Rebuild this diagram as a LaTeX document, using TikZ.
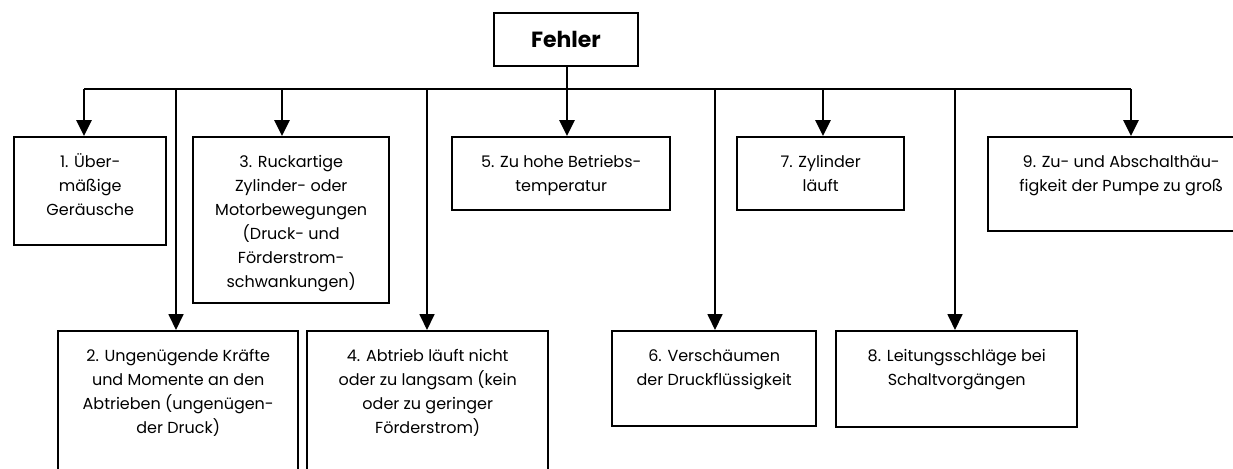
\documentclass[tikz,border=0pt]{standalone}
\usepackage{fontspec}
\setmainfont{Poppins}
\usetikzlibrary{arrows.meta}

\newlength\px
\setlength\px{0.02cm}
% box text: width, height (in px), lines
\newcommand{\faulttext}[3]{\parbox[c][#2\px][t]{#1\px}{\centering
  \fontsize{9.1}{13.6}\selectfont\rule{0pt}{17.5pt}#3}}

\tikzset{
  fault/.style={draw, line width=1.4pt, inner sep=0pt, anchor=north west},
  branch/.style={line width=1.4pt, -{Triangle[length=9pt,width=8.5pt]}},
  longbranch/.style={line width=0.8pt, -{Triangle[length=9pt,width=8.5pt]}}
}

\begin{document}
\begin{tikzpicture}[x=0.02cm, y=-0.02cm]
    \useasboundingbox (0,0) rectangle (1233,469);
    \clip (0,0) rectangle (1233,469);

    \node[draw, line width=1.4pt, inner sep=0pt, minimum width=144\px, minimum height=53\px,
      font=\bfseries\fontsize{12.5}{14}\selectfont] (fehler) at (566,39.5) {Fehler};

    \node[fault] (f1) at (13,136) {\faulttext{152}{108}{1. Über-\\mäßige\\Geräusche}};
    \node[fault] (f2) at (57,330) {\faulttext{240}{170}{2. Ungenügende Kräfte\\und Momente an den\\Abtrieben (ungenügen-\\der Druck)}};
    \node[fault] (f3) at (192,136) {\faulttext{196}{166}{3. Ruckartige\\Zylinder- oder\\Motorbewegungen\\(Druck- und\\Förderstrom-\\schwankungen)}};
    \node[fault] (f4) at (306,330) {\faulttext{241}{170}{4. Abtrieb läuft nicht\\oder zu langsam (kein\\oder zu geringer\\Förderstrom)}};
    \node[fault] (f5) at (451,136) {\faulttext{218}{73}{5. Zu hohe Betriebs-\\temperatur}};
    \node[fault] (f6) at (611,330) {\faulttext{204}{95}{6. Verschäumen\\der Druckflüssigkeit}};
    \node[fault] (f7) at (736,136) {\faulttext{167}{73}{7. Zylinder\\läuft}};
    \node[fault] (f8) at (835,330) {\faulttext{241}{96}{8. Leitungsschläge bei\\Schaltvorgängen}};
    \node[fault] (f9) at (987,136) {\faulttext{266}{94}{9. Zu- und Abschalthäu-\\figkeit der Pumpe zu groß}};

    \foreach \i/\x in {1/84,2/176,3/282,4/427,5/567,6/715,7/823,8/955,9/1131}
      \coordinate (b\i) at (\x,89);

    \draw[line width=1.6pt] (b1) -- (b9);
    \draw[line width=1.4pt] (fehler.south -| b5) -- (b5);

    \foreach \i in {1,3,5,7,9}
      \draw[branch] (b\i) -- (b\i |- f\i.north);
    \foreach \i in {2,4,6,8}
      \draw[longbranch] (b\i) -- (b\i |- f\i.north);

  \end{tikzpicture}
\end{document}
